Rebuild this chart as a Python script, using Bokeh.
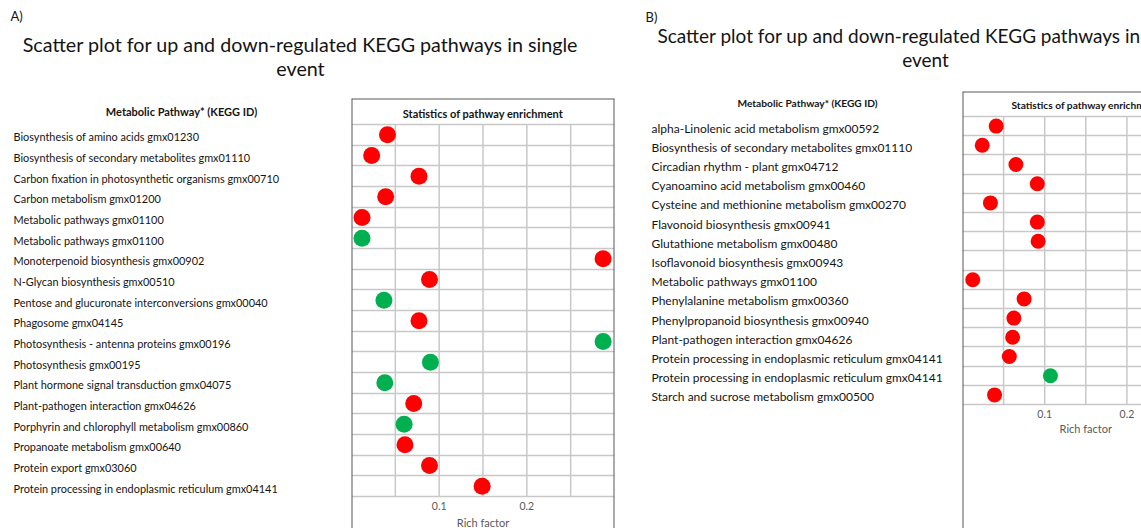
from bokeh.plotting import figure
from bokeh.layouts import row, column
from bokeh.models import Range1d, LinearAxis, FixedTicker, Span, Grid, ColumnDataSource
from bokeh.embed import file_html
from bokeh.resources import INLINE
from bokeh.core.properties import value

# ---- data -----------------------------------------------------------------
pathways_a = [
    "Biosynthesis of amino acids gmx01230",
    "Biosynthesis of secondary metabolites gmx01110",
    "Carbon fixation in photosynthetic organisms gmx00710",
    "Carbon metabolism gmx01200",
    "Metabolic pathways gmx01100",
    "Metabolic pathways gmx01100",
    "Monoterpenoid biosynthesis gmx00902",
    "N-Glycan biosynthesis gmx00510",
    "Pentose and glucuronate interconversions gmx00040",
    "Phagosome gmx04145",
    "Photosynthesis - antenna proteins gmx00196",
    "Photosynthesis gmx00195",
    "Plant hormone signal transduction gmx04075",
    "Plant-pathogen interaction gmx04626",
    "Porphyrin and chlorophyll metabolism gmx00860",
    "Propanoate metabolism gmx00640",
    "Protein export gmx03060",
    "Protein processing in endoplasmic reticulum gmx04141",
]
rich_a = [0.041, 0.023, 0.077, 0.039, 0.012, 0.012, 0.287, 0.089, 0.037,
          0.077, 0.287, 0.090, 0.038, 0.071, 0.060, 0.061, 0.089, 0.149]
regulation_a = ["up", "up", "up", "up", "up", "down", "up", "up", "down",
                "up", "down", "down", "down", "up", "down", "up", "up", "up"]

pathways_b = [
    "alpha-Linolenic acid metabolism gmx00592",
    "Biosynthesis of secondary metabolites gmx01110",
    "Circadian rhythm - plant gmx04712",
    "Cyanoamino acid metabolism gmx00460",
    "Cysteine and methionine metabolism gmx00270",
    "Flavonoid biosynthesis gmx00941",
    "Glutathione metabolism gmx00480",
    "Isoflavonoid biosynthesis gmx00943",
    "Metabolic pathways gmx01100",
    "Phenylalanine metabolism gmx00360",
    "Phenylpropanoid biosynthesis gmx00940",
    "Plant-pathogen interaction gmx04626",
    "Protein processing in endoplasmic reticulum gmx04141",
    "Protein processing in endoplasmic reticulum gmx04141",
    "Starch and sucrose metabolism gmx00500",
]
rich_b = [0.041, 0.024, 0.065, 0.091, 0.034, 0.091, 0.092, float("nan"), 0.0125,
          0.075, 0.0625, 0.061, 0.057, 0.107, 0.039]
regulation_b = ["up", "up", "up", "up", "up", "up", "up", "up", "up",
                "up", "up", "up", "up", "down", "up"]

rich_tick_labels = [0.1, 0.2]
rich_grid = [0.05, 0.1, 0.15, 0.2, 0.25]

TITLE = ["Scatter plot for up and down-regulated KEGG pathways in single", "event"]

# ---- styling --------------------------------------------------------------
FONT = "Lato"
COLORS = {"up": "#FF0000", "down": "#00B050"}
GRID_COLOR = "#C8C8C8"
BORDER_COLOR = "#595959"
TEXT_COLOR = "#141414"
TICK_COLOR = "#595959"


def bare_figure(width, height, x_range, y_range):
    p = figure(width=width, height=height, x_range=x_range, y_range=y_range,
               output_backend="svg", toolbar_location=None,
               x_axis_location=None, y_axis_location=None,
               min_border_left=0, min_border_right=0,
               min_border_top=0, min_border_bottom=0,
               outline_line_color=None, background_fill_color="white",
               border_fill_color="white")
    p.grid.visible = False
    return p


def title_figure(width, height, letter, letter_pos, center_x, line_y, size):
    p = bare_figure(width, height, Range1d(0, width), Range1d(height, 0))
    p.text(x=[letter_pos[0]], y=[letter_pos[1]], text=[letter],
           text_font=value(FONT), text_font_size="13px", text_color=TEXT_COLOR,
           text_baseline="middle")
    p.text(x=[center_x, center_x], y=line_y, text=TITLE,
           text_font=value(FONT), text_font_size=size, text_color=TEXT_COLOR,
           text_align="center", text_baseline="middle")
    return p


def panel(names, rich, regulation, cfg):
    n = len(names)
    row_px = cfg["row_px"]
    top = -0.5 - cfg["header_px"] / row_px
    bottom = (n - 0.5) + cfg["below_px"] / row_px
    height = cfg["height"]
    y_range = Range1d(start=bottom, end=top)
    rows = list(range(n))

    # pathway names column
    lab = bare_figure(cfg["label_w"], height, Range1d(0, cfg["label_w"]), y_range)
    src_names = ColumnDataSource(dict(y=rows, name=names))
    lab.text(x=cfg["label_x"], y="y", text="name", source=src_names,
             text_font=value(FONT), text_font_size=cfg["label_size"],
             text_color=TEXT_COLOR, text_baseline="middle", y_offset=2)
    lab.text(x=[cfg["head_x"]], y=[cfg["head_y"]], text=["Metabolic Pathway* (KEGG ID)"],
             text_font=value(FONT), text_font_size=cfg["head_size"],
             text_font_style="bold", text_color=TEXT_COLOR,
             text_align="center", text_baseline="middle")

    # enrichment plot
    p = bare_figure(cfg["plot_w"], height, Range1d(0, cfg["x_end"]), y_range)
    p.min_border_right = cfg["plot_pad_right"]

    edges = [i - 0.5 for i in range(n + 1)]
    p.add_layout(Grid(dimension=1, ticker=FixedTicker(ticks=edges),
                      grid_line_color=GRID_COLOR, grid_line_width=1.5))
    k = len(rich_grid)
    p.segment(x0=rich_grid, x1=rich_grid, y0=[-0.5] * k, y1=[n - 0.5] * k,
              line_color=GRID_COLOR, line_width=1.5)

    p.add_layout(Span(location=0, dimension="height",
                      line_color=BORDER_COLOR, line_width=2))
    p.add_layout(Span(location=top, dimension="width",
                      line_color=BORDER_COLOR, line_width=2))
    if cfg["right_border"]:
        p.add_layout(Span(location=0.3, dimension="height",
                          line_color=BORDER_COLOR, line_width=2))

    axis = LinearAxis(fixed_location=n - 0.5,
                      ticker=FixedTicker(ticks=rich_tick_labels),
                      axis_line_color=None, major_tick_line_color=None,
                      minor_tick_line_color=None,
                      major_tick_in=0, major_tick_out=0,
                      major_label_standoff=cfg["tick_standoff"],
                      major_label_text_font=FONT,
                      major_label_text_font_size="10.5px",
                      major_label_text_color=TICK_COLOR)
    p.add_layout(axis, "below")

    p.text(x=[0.15], y=[cfg["xlabel_y"]], text=["Rich factor"],
           text_font=value(FONT), text_font_size="11px", text_color=TICK_COLOR,
           text_align="center", text_baseline="middle")
    p.text(x=[0.15], y=[cfg["stat_y"]], text=["Statistics of pathway enrichment"],
           text_font=value(FONT), text_font_size=cfg["stat_size"],
           text_font_style="bold", text_color=TEXT_COLOR,
           text_align="center", text_baseline="middle")

    src = ColumnDataSource(dict(x=rich, y=rows,
                                color=[COLORS[r] for r in regulation]))
    p.scatter(x="x", y="y", source=src, size=cfg["dot"],
              fill_color="color", line_color=None)
    return row(lab, p, spacing=0)


cfg_a = dict(height=430, row_px=372 / 18, header_px=26, below_px=32,
             label_w=351, label_x=13, label_size="10.9px",
             head_x=181, head_y=-1.14, head_size="11px",
             plot_w=286, plot_pad_right=23, x_end=0.3, right_border=True,
             tick_standoff=5, xlabel_y=18.75, stat_y=-1.05, stat_size="11px",
             dot=17)
cfg_b = dict(height=437, row_px=288 / 15, header_px=25, below_px=124,
             label_w=325, label_x=14, label_size="12px",
             head_x=170, head_y=-1.21, head_size="10.2px",
             plot_w=179, plot_pad_right=0, x_end=179 / 822, right_border=False,
             tick_standoff=5, xlabel_y=15.75, stat_y=-1.1, stat_size="10.2px",
             dot=15)

title_a = title_figure(637, 98, "A)", (10, 15), 300, [44, 68], "19.7px")
title_b = title_figure(504, 91, "B)", (8, 16), 288, [35, 59], "19px")

panel_a = column(title_a, panel(pathways_a, rich_a, regulation_a, cfg_a), spacing=0)
panel_b = column(title_b, panel(pathways_b, rich_b, regulation_b, cfg_b), spacing=0)
page = row(panel_a, panel_b, spacing=0)

open("out.html", "w").write(file_html(page, INLINE))
